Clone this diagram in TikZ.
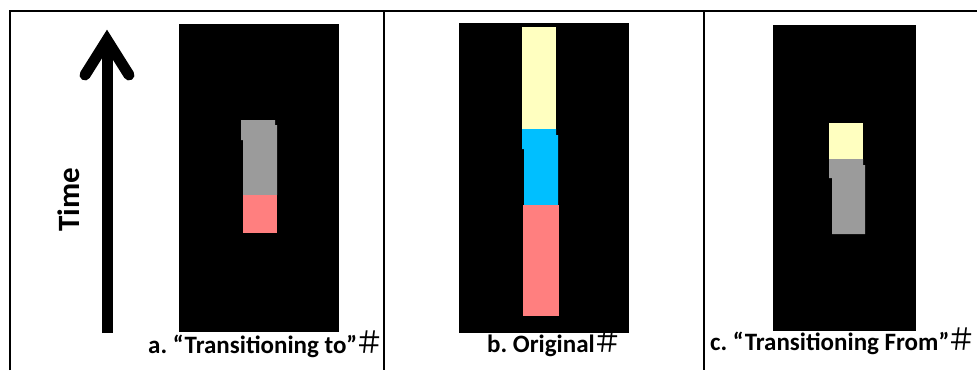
\documentclass[tikz,border=0pt]{standalone}
\usepackage{fontspec}
\setmainfont{Carlito}
\newfontfamily\cjk{Noto Sans CJK SC}
\definecolor{grayblk}{RGB}{155,155,155}
\definecolor{pinkblk}{RGB}{255,127,127}
\definecolor{yellowblk}{RGB}{255,255,192}
\definecolor{cyanblk}{RGB}{0,191,255}
\frenchspacing
\newcommand{\hashmark}{{\cjk\mdseries\fontsize{30}{30}\selectfont\kern-0.08em ＃}}
\begin{document}
\begin{tikzpicture}[x=1pt,y=-1pt,
  rule/.style={line width=2pt,black},
  panel/.style={fill=black},
  lbl/.style={inner sep=0pt,anchor=base west,font=\fontsize{25}{28}\selectfont\bfseries},
  timelbl/.style={inner sep=0pt,rotate=90,font=\fontsize{31}{34}\selectfont\bfseries},
  timearrow/.style={line width=11pt,black}]
\useasboundingbox (0,0) rectangle (977,370);
\fill[white] (0,0) rectangle (977,370);
% table rules
\draw[rule] (10,370) -- (10,11) -- (977,11);
\draw[rule] (384,11) -- (384,370);
\draw[rule] (704,11) -- (704,370);
% time arrow
\coordinate (abot) at (107,333);
\coordinate (atop) at (107,40);
\coordinate (awl) at (85,75);
\coordinate (awr) at (129,75);
\draw[timearrow] (abot) -- (atop);
\draw[timearrow,line cap=round,line join=miter] (awl) -- (atop) -- (awr);
\node[timelbl] (time) at (69,200) {Time};
% panel a
\fill[panel] (179,24) rectangle (339,332);
\fill[grayblk] (241,120) -- (275,120) -- (275,125) -- (277,125) -- (277,195) -- (243,195) -- (243,140) -- (241,140) -- cycle;
\fill[pinkblk] (243,195) rectangle (277,233);
% panel b
\fill[panel] (459,23) rectangle (629,333);
\fill[yellowblk] (522,27) rectangle (556,129);
\fill[cyanblk] (522,129) -- (556,129) -- (556,135) -- (558,135) -- (558,205) -- (524,205) -- (524,149) -- (522,149) -- cycle;
\fill[pinkblk] (523,205) rectangle (559,316);
% panel c
\fill[panel] (773,25) rectangle (916,331);
\fill[yellowblk] (829,123) rectangle (863,159);
\fill[grayblk] (829,159) -- (863,159) -- (863,165) -- (865,165) -- (865,234) -- (832,234) -- (832,178) -- (829,178) -- cycle;
% labels
\node[lbl] (la) at (148,353) {a. “Transitioning to”\hashmark};
\node[lbl] (lb) at (487,352) {b. Original\hashmark};
\node[lbl] (lc) at (710,350) {c. “Transitioning From”\hashmark};
\end{tikzpicture}
\end{document}
